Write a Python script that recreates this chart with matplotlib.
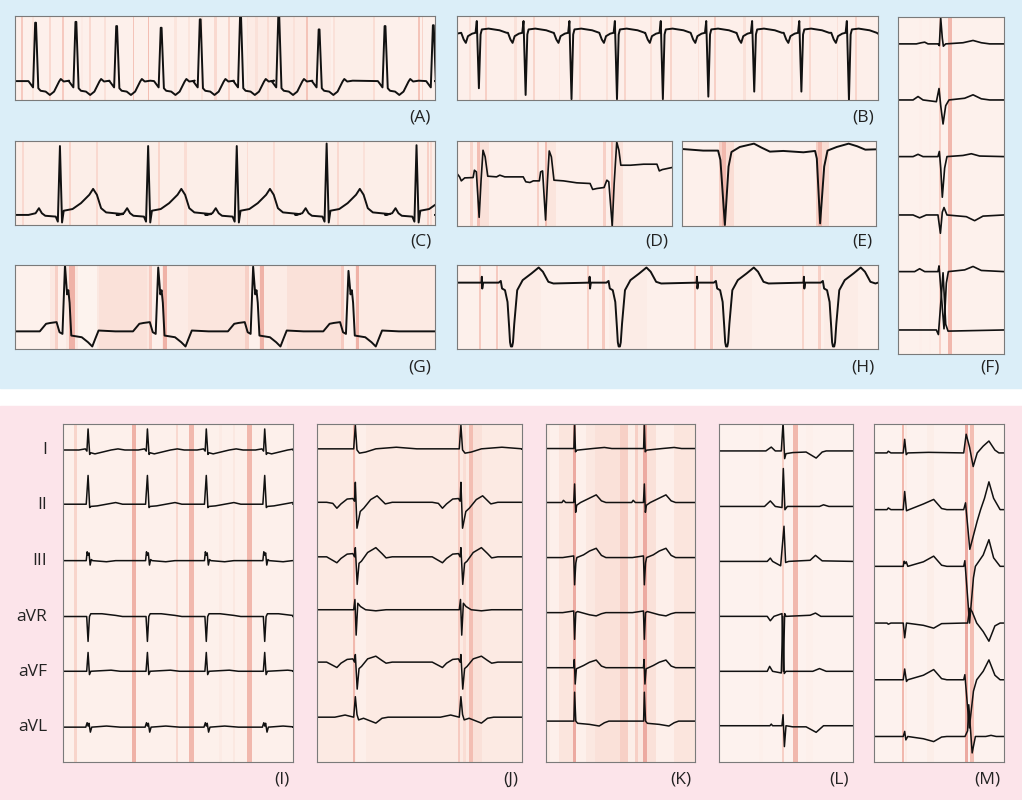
import numpy as np
import matplotlib.pyplot as plt
from matplotlib.colors import LinearSegmentedColormap
from matplotlib.patches import Rectangle

# ---------------- data (time = fraction of strip width) ----------------

# (A) beats, R heights, beat shape (offset, amplitude)
A_beats = [0.049, 0.145, 0.242, 0.348, 0.441, 0.537, 0.628, 0.724, 0.881, 0.996]
A_r = [0.92, 0.93, 0.88, 0.86, 0.96, 1.02, 1.02, 0.84, 0.88, 0.89]
A_shape = [(-0.017, 0.225), (-0.006, 0.15), (-0.001, None), (0.001, None), (0.0065, 0.14),
           (0.012, 0.11), (0.024, 0.10), (0.034, 0.06), (0.044, 0.10), (0.056, 0.22),
           (0.06, 0.25), (0.067, 0.22), (0.08, 0.23)]
A_base = 0.225
A_sal = [(0.016, 0.6), (0.044, 0.3), (0.083, 0.45), (0.115, 0.6), (0.159, 0.2), (0.179, 0.45),
         (0.214, 0.35), (0.282, 0.65), (0.317, 0.7), (0.381, 0.3), (0.413, 0.3), (0.444, 0.3),
         (0.476, 0.45), (0.508, 0.5), (0.552, 0.3), (0.574, 0.35), (0.6, 0.4), (0.663, 0.35),
         (0.694, 0.65), (0.758, 0.35), (0.853, 0.4), (0.96, 0.65), (0.968, 0.5)]
A_sal_wide = [(0.55, 0.75, 0.2), (0.76, 0.85, 0.15)]

# (B)
B_beats = [0.049, 0.160, 0.269, 0.377, 0.486, 0.594, 0.703, 0.815, 0.928]
B_s = [0.14, 0.06, 0.01, 0.01, 0.01, 0.04, 0.10, 0.10, 0.0]
B_shape = [(-0.039, 0.80), (-0.033, 0.72), (-0.028, 0.68), (-0.023, 0.76), (-0.013, 0.79),
           (-0.005, 0.80), (-0.002, 0.94), (0.003, None), (0.007, 0.78), (0.010, 0.84),
           (0.026, 0.85), (0.052, 0.83), (0.069, 0.80)]
B_base = 0.79
B_sal = [(0.03, 0.35), (0.069, 0.55), (0.139, 0.35), (0.182, 0.5), (0.243, 0.3), (0.291, 0.45),
         (0.356, 0.35), (0.399, 0.5), (0.46, 0.35), (0.507, 0.5), (0.572, 0.35), (0.611, 0.55),
         (0.681, 0.35), (0.724, 0.45), (0.794, 0.35), (0.837, 0.45), (0.902, 0.35), (0.945, 0.5)]

# (C)
C_beats = [0.107, 0.317, 0.528, 0.742, 0.956]
C_r = [0.94, 0.94, 0.94, 0.97, 0.95]
C_shape = [(-0.075, 0.12), (-0.058, 0.14), (-0.05, 0.20), (-0.043, 0.14), (-0.035, 0.11),
           (-0.01, 0.10), (-0.005, 0.04), (0.0, None), (0.005, 0.03), (0.009, 0.17),
           (0.03, 0.19), (0.05, 0.26), (0.07, 0.36), (0.079, 0.43), (0.088, 0.36),
           (0.098, 0.20), (0.11, 0.15), (0.15, 0.13)]
C_base = 0.12
C_sal = [(0.02, 0.45), (0.131, 0.5), (0.194, 0.45), (0.341, 0.5), (0.405, 0.4), (0.552, 0.4),
         (0.615, 0.4), (0.766, 0.45), (0.829, 0.35), (0.98, 0.55), (0.988, 0.4)]

# (D) irregular strip, full trace
D_t = [0.0, 0.012, 0.020, 0.036, 0.075, 0.081, 0.090, 0.103, 0.112, 0.121, 0.131, 0.143,
       0.184, 0.199, 0.222, 0.308, 0.320, 0.339, 0.355, 0.383, 0.389, 0.398, 0.412, 0.421,
       0.429, 0.439, 0.451, 0.495, 0.557, 0.619, 0.631, 0.650, 0.684, 0.697, 0.706, 0.722,
       0.731, 0.743, 0.753, 0.762, 0.806, 0.868, 0.930, 0.941, 0.955, 1.0]
D_v = [0.617, 0.578, 0.531, 0.566, 0.570, 0.656, 0.637, 0.102, 0.539, 0.891, 0.813, 0.586,
       0.578, 0.598, 0.578, 0.578, 0.520, 0.512, 0.531, 0.531, 0.637, 0.648, 0.070, 0.539,
       0.883, 0.813, 0.539, 0.531, 0.508, 0.500, 0.430, 0.441, 0.453, 0.539, 0.520, 0.0,
       0.500, 0.988, 0.891, 0.715, 0.715, 0.727, 0.727, 0.648, 0.664, 0.688]
D_sal = [(0.06, 0.072, 0.5), (0.095, 0.105, 0.7), (0.105, 0.15, 0.35), (0.37, 0.382, 0.55),
         (0.41, 0.42, 0.7), (0.42, 0.46, 0.3), (0.68, 0.693, 0.55), (0.715, 0.725, 0.75),
         (0.725, 0.77, 0.35)]

# (E)
E_t = [0.0, 0.109, 0.186, 0.198, 0.221, 0.240, 0.255, 0.298, 0.371, 0.410, 0.453, 0.522,
       0.626, 0.686, 0.695, 0.712, 0.733, 0.750, 0.798, 0.859, 0.903, 0.945, 1.0]
E_v = [0.906, 0.887, 0.887, 0.777, 0.012, 0.699, 0.871, 0.930, 0.969, 0.922, 0.875, 0.883,
       0.867, 0.883, 0.793, 0.031, 0.699, 0.887, 0.930, 0.969, 0.938, 0.898, 0.902]
E_sal = [(0.19, 0.205, 0.55), (0.205, 0.225, 0.75), (0.225, 0.27, 0.4), (0.27, 0.35, 0.15),
         (0.69, 0.70, 0.55), (0.70, 0.72, 0.75), (0.72, 0.76, 0.4)]

# (G)
G_beats = [0.119, 0.341, 0.567, 0.794]
G_r = [1.0, 0.97, 0.98, 0.93]
G_shape = [(-0.06, 0.21), (-0.045, 0.30), (-0.035, 0.31), (-0.02, 0.32), (-0.013, 0.20),
           (-0.006, 0.18), (0.0, None), (0.005, 0.65), (0.008, 0.70), (0.011, 0.55),
           (0.015, 0.16), (0.04, 0.14), (0.055, 0.08), (0.065, 0.03), (0.072, 0.12),
           (0.08, 0.22), (0.12, 0.21)]
G_base = 0.21
G_sal = [(0.0, 0.083, 0.08), (0.095, 0.103, 0.55), (0.103, 0.12, 0.1), (0.127, 0.143, 0.8),
         (0.15, 0.195, 0.05), (0.2, 0.313, 0.35), (0.317, 0.325, 0.6), (0.325, 0.35, 0.1),
         (0.353, 0.361, 0.8), (0.361, 0.41, 0.2), (0.41, 0.548, 0.3), (0.548, 0.556, 0.55),
         (0.556, 0.58, 0.1), (0.582, 0.592, 0.8), (0.592, 0.645, 0.2), (0.645, 0.775, 0.35),
         (0.775, 0.783, 0.6), (0.783, 0.808, 0.1), (0.81, 0.818, 0.8), (0.818, 1.0, 0.22)]

# (H)
H_beats = [0.059, 0.315, 0.570, 0.824]
H_shape = [(-0.001, 0.79), (0.0, 0.86), (0.001, 0.72), (0.003, 0.79), (0.04, 0.79),
           (0.045, 0.81), (0.048, 0.72), (0.055, 0.70), (0.061, 0.56), (0.065, 0.25),
           (0.067, 0.08), (0.069, 0.03), (0.072, 0.03), (0.074, 0.08), (0.077, 0.30),
           (0.084, 0.70), (0.097, 0.82), (0.118, 0.90), (0.135, 0.97), (0.145, 0.92),
           (0.158, 0.80), (0.17, 0.78)]
H_base = 0.79
H_sal = [(0.051, 0.057, 0.6), (0.091, 0.097, 0.6), (0.307, 0.313, 0.55), (0.344, 0.35, 0.6),
         (0.561, 0.567, 0.55), (0.6, 0.606, 0.6), (0.817, 0.823, 0.5), (0.856, 0.862, 0.55),
         (0.1, 0.2, 0.18), (0.36, 0.45, 0.18), (0.61, 0.7, 0.18), (0.87, 0.95, 0.18)]

# (F) six leads, one beat each
F_offsets = [5.42, 4.44, 3.45, 2.43, 1.44, 0.42]
F_leads = [
    [(0.0, 0.0), (0.173, 0.0), (0.22, 0.02), (0.252, 0.03), (0.283, 0.0), (0.377, 0.0),
     (0.39, -0.03), (0.403, 0.45), (0.418, 0.1), (0.428, -0.04), (0.45, 0.0), (0.613, 0.02),
     (0.708, 0.06), (0.786, 0.02), (0.865, 0.0), (1.0, 0.0)],
    [(0.0, 0.0), (0.142, 0.0), (0.189, 0.06), (0.236, 0.0), (0.362, -0.03), (0.387, 0.2),
     (0.403, -0.1), (0.425, -0.42), (0.45, -0.1), (0.481, 0.0), (0.629, 0.03), (0.708, 0.09),
     (0.786, 0.02), (0.865, 0.0), (1.0, 0.0)],
    [(0.0, 0.0), (0.142, 0.0), (0.189, 0.04), (0.236, 0.0), (0.377, 0.0), (0.39, 0.09),
     (0.403, -0.2), (0.418, -0.71), (0.44, -0.2), (0.462, 0.0), (0.613, 0.02), (0.692, 0.05),
     (0.77, 0.01), (1.0, 0.0)],
    [(0.0, 0.0), (0.142, 0.0), (0.204, -0.05), (0.267, 0.0), (0.377, 0.0), (0.40, -0.32),
     (0.418, 0.05), (0.434, 0.13), (0.462, 0.0), (0.645, -0.03), (0.723, -0.1),
     (0.802, -0.02), (1.0, 0.0)],
    [(0.0, 0.0), (0.157, 0.0), (0.204, 0.05), (0.252, 0.0), (0.377, 0.0), (0.387, 0.1),
     (0.434, -1.0), (0.456, -0.2), (0.475, 0.0), (0.629, 0.03), (0.708, 0.09), (0.786, 0.02),
     (1.0, 0.0)],
    [(0.0, 0.0), (0.362, 0.0), (0.381, -0.08), (0.425, 1.0), (0.45, 0.1), (0.472, -0.02),
     (1.0, 0.0)],
]
F_sal = [(0.2, 0.23, 0.12), (0.29, 0.31, 0.12), (0.385, 0.41, 0.55), (0.47, 0.505, 0.75)]

# 12-lead panels
lead_names = ['I', 'II', 'III', 'aVR', 'aVF', 'aVL']

I_beats = [0.109, 0.367, 0.623, 0.877]
I_offsets = [5.64, 4.66, 3.64, 2.63, 1.64, 0.63]
I_leads = [
    [(-0.04, 0.0), (-0.012, 0.02), (-0.005, -0.02), (0.0, 0.38), (0.007, -0.08), (0.012, -0.05),
     (0.03, -0.07), (0.06, -0.04), (0.1, 0.0), (0.13, 0.02), (0.16, 0.0)],
    [(-0.04, 0.0), (-0.008, 0.0), (0.0, 0.52), (0.007, -0.06), (0.012, -0.04), (0.04, -0.03),
     (0.08, 0.0), (0.12, 0.03), (0.15, 0.0)],
    [(-0.03, 0.0), (-0.008, 0.0), (-0.004, 0.16), (0.0, 0.1), (0.004, 0.14), (0.009, -0.08),
     (0.014, 0.02), (0.02, 0.0), (0.08, -0.02), (0.12, 0.0)],
    [(-0.03, 0.0), (-0.006, 0.0), (0.0, -0.45), (0.006, 0.0), (0.012, 0.05), (0.06, 0.05),
     (0.12, 0.02), (0.15, 0.0)],
    [(-0.03, 0.0), (-0.006, 0.0), (0.0, 0.34), (0.006, -0.06), (0.012, 0.0), (0.1, 0.02),
     (0.14, 0.0)],
    [(-0.03, 0.0), (-0.01, 0.0), (-0.004, 0.08), (0.0, 0.02), (0.004, 0.07), (0.01, -0.09),
     (0.016, 0.0), (0.08, 0.02), (0.14, 0.0)],
]
I_sal = [(0.05, 0.06, 0.5), (0.3, 0.318, 0.8), (0.49, 0.5, 0.45), (0.55, 0.57, 0.75),
         (0.68, 0.69, 0.2), (0.74, 0.75, 0.25), (0.8, 0.822, 0.75)]

J_beats = [0.187, 0.702]
J_offsets = [5.80, 4.81, 3.80, 2.82, 1.85, 0.83]
J_leads = [
    [(-0.1, 0.0), (-0.008, 0.0), (0.0, 0.44), (0.008, -0.02), (0.02, -0.08), (0.05, -0.06),
     (0.1, 0.0), (0.2, 0.03), (0.3, 0.0)],
    [(-0.14, 0.0), (-0.11, -0.02), (-0.09, -0.11), (-0.07, -0.03), (-0.04, 0.06), (-0.012, 0.07),
     (-0.004, 0.02), (0.0, 0.37), (0.008, -0.48), (0.024, -0.17), (0.041, -0.11), (0.075, 0.05),
     (0.106, 0.12), (0.13, 0.03), (0.146, -0.03), (0.18, 0.0)],
    [(-0.14, 0.0), (-0.09, -0.11), (-0.07, -0.03), (-0.04, 0.05), (-0.012, 0.06), (-0.004, 0.0),
     (0.0, 0.17), (0.009, -0.51), (0.018, -0.12), (0.03, -0.08), (0.06, 0.08), (0.1, 0.17),
     (0.13, 0.06), (0.15, -0.02), (0.18, 0.0)],
    [(-0.1, 0.0), (-0.008, 0.0), (-0.002, 0.19), (0.004, -0.47), (0.012, 0.12), (0.025, 0.06),
     (0.05, 0.0), (0.1, -0.02), (0.15, 0.0)],
    [(-0.14, 0.0), (-0.09, -0.1), (-0.07, -0.02), (-0.04, 0.05), (-0.012, 0.06), (-0.004, 0.0),
     (0.0, 0.14), (0.009, -0.5), (0.018, -0.12), (0.03, -0.08), (0.06, 0.06), (0.1, 0.11),
     (0.13, 0.03), (0.15, -0.02), (0.18, 0.0)],
    [(-0.1, 0.0), (-0.05, 0.04), (-0.008, 0.0), (0.0, 0.38), (0.008, 0.05), (0.016, -0.05),
     (0.04, -0.02), (0.08, -0.08), (0.1, -0.11), (0.13, -0.02), (0.16, 0.0)],
]
J_sal = [(0.172, 0.182, 0.75), (0.19, 0.24, 0.12), (0.686, 0.696, 0.6), (0.71, 0.725, 0.4),
         (0.74, 0.755, 0.7), (0.755, 0.8, 0.35)]

K_beats = [0.192, 0.66]
K_offsets = [5.75, 4.76, 3.75, 2.74, 1.73, 0.75]
K_leads = [
    [(-0.06, 0.0), (-0.005, 0.0), (0.0, 0.45), (0.006, -0.06), (0.015, -0.03), (0.05, -0.02),
     (0.12, 0.0), (0.2, 0.02), (0.25, 0.0)],
    [(-0.12, 0.0), (-0.085, 0.0), (-0.075, 0.04), (-0.06, 0.0), (-0.006, 0.0), (0.0, 0.34),
     (0.007, -0.18), (0.014, -0.05), (0.04, 0.0), (0.1, 0.08), (0.145, 0.14), (0.18, 0.03),
     (0.21, 0.0)],
    [(-0.08, 0.0), (-0.006, 0.03), (0.0, -0.5), (0.008, -0.1), (0.015, 0.0), (0.06, 0.05),
     (0.1, 0.12), (0.145, 0.17), (0.18, 0.04), (0.21, 0.0)],
    [(-0.08, 0.0), (-0.006, 0.03), (0.0, -0.49), (0.008, 0.0), (0.02, 0.02), (0.1, -0.04),
     (0.145, -0.06), (0.18, -0.02), (0.21, 0.0)],
    [(-0.08, 0.0), (-0.006, 0.0), (-0.002, 0.15), (0.004, -0.3), (0.012, -0.02), (0.06, 0.04),
     (0.1, 0.1), (0.145, 0.14), (0.18, 0.03), (0.21, 0.0)],
    [(-0.08, 0.0), (-0.005, 0.0), (0.0, 0.53), (0.008, 0.0), (0.02, -0.04), (0.1, -0.06),
     (0.165, -0.09), (0.2, -0.03), (0.23, 0.0)],
]
K_base_sal = 0.25
K_sal = [(0.0, 0.03, 0.2), (0.03, 0.09, 0.1), (0.09, 0.18, 0.3), (0.18, 0.2, 0.85),
         (0.2, 0.27, 0.1), (0.27, 0.33, 0.25), (0.33, 0.5, 0.35), (0.5, 0.55, 0.55),
         (0.55, 0.6, 0.15), (0.6, 0.62, 0.55), (0.65, 0.675, 0.85), (0.675, 0.74, 0.35),
         (0.74, 0.86, 0.12), (0.86, 1.0, 0.3)]

L_offsets = [5.66, 4.65, 3.65, 2.65, 1.65, 0.66]
L_leads = [
    [(0.0, 0.0), (0.35, 0.0), (0.39, 0.07), (0.42, 0.0), (0.465, 0.0), (0.478, 0.52),
     (0.49, -0.14), (0.5, -0.05), (0.55, -0.03), (0.65, -0.02), (0.725, -0.13), (0.77, -0.02),
     (0.8, 0.0), (1.0, 0.0)],
    [(0.0, 0.0), (0.34, 0.0), (0.383, 0.1), (0.42, 0.0), (0.47, -0.02), (0.48, 0.69),
     (0.492, -0.06), (0.51, 0.0), (0.75, 0.0), (0.78, 0.03), (0.82, 0.0), (1.0, 0.0)],
    [(0.0, 0.0), (0.36, 0.0), (0.383, 0.06), (0.4, 0.0), (0.46, -0.08), (0.485, 0.64),
     (0.497, -0.02), (0.52, 0.0), (0.68, 0.02), (0.72, 0.11), (0.77, 0.01), (1.0, 0.0)],
    [(0.0, 0.0), (0.36, 0.0), (0.383, -0.08), (0.41, 0.0), (0.47, 0.05), (0.48, -1.0),
     (0.49, 0.05), (0.5, 0.0), (0.68, 0.02), (0.72, 0.06), (0.76, 0.0), (1.0, 0.0)],
    [(0.0, 0.0), (0.36, 0.0), (0.378, 0.09), (0.4, 0.0), (0.465, -0.03), (0.476, 1.0),
     (0.487, -0.04), (0.5, 0.0), (0.7, 0.0), (0.75, 0.05), (0.8, 0.0), (1.0, 0.0)],
    [(0.0, 0.0), (0.38, 0.0), (0.39, 0.03), (0.4, 0.0), (0.47, 0.0), (0.478, 0.2),
     (0.488, -0.38), (0.5, 0.0), (0.55, -0.02), (0.65, -0.02), (0.725, -0.12), (0.78, 0.0),
     (1.0, 0.0)],
]
L_sal = [(0.3, 0.33, 0.1), (0.468, 0.485, 0.55), (0.555, 0.59, 0.75), (0.65, 0.7, 0.1)]

M_offsets = [5.45, 4.45, 3.45, 2.45, 1.45, 0.45]
M_leads = [
    [(0.0, 0.0), (0.1, 0.0), (0.11, 0.03), (0.13, 0.0), (0.225, 0.0), (0.236, 0.24),
     (0.248, -0.03), (0.26, 0.0), (0.42, 0.01), (0.69, 0.0), (0.709, 0.33), (0.735, 0.1),
     (0.763, -0.24), (0.794, 0.0), (0.84, 0.12), (0.884, 0.21), (0.93, 0.05), (0.961, 0.0),
     (1.0, 0.0)],
    [(0.0, 0.0), (0.1, 0.0), (0.11, 0.03), (0.13, 0.0), (0.225, 0.0), (0.236, 0.32),
     (0.25, -0.02), (0.27, 0.0), (0.38, 0.1), (0.459, 0.18), (0.52, 0.02), (0.56, 0.0),
     (0.69, 0.0), (0.704, 0.12), (0.737, -0.7), (0.794, -0.2), (0.82, 0.0), (0.85, 0.2),
     (0.884, 0.49), (0.92, 0.2), (0.97, 0.0), (1.0, 0.0)],
    [(0.0, 0.0), (0.225, 0.0), (0.232, 0.09), (0.24, 0.05), (0.248, 0.08), (0.26, 0.0),
     (0.38, 0.08), (0.459, 0.18), (0.52, 0.02), (0.56, 0.0), (0.69, 0.0), (0.699, 0.1),
     (0.735, -1.0), (0.765, -0.2), (0.78, 0.0), (0.84, 0.2), (0.884, 0.47), (0.92, 0.15),
     (0.97, 0.0), (1.0, 0.0)],
    [(0.0, 0.0), (0.1, 0.0), (0.11, -0.02), (0.13, 0.0), (0.225, 0.0), (0.236, -0.26),
     (0.25, 0.0), (0.38, -0.04), (0.459, -0.09), (0.52, -0.01), (0.69, 0.0), (0.72, 0.0),
     (0.737, 0.26), (0.755, 0.2), (0.79, 0.0), (0.84, -0.15), (0.884, -0.32), (0.93, -0.05),
     (0.97, 0.0), (1.0, 0.0)],
    [(0.0, 0.0), (0.225, 0.0), (0.236, 0.19), (0.25, -0.03), (0.26, 0.0), (0.38, 0.08),
     (0.459, 0.18), (0.52, 0.02), (0.56, 0.0), (0.69, 0.0), (0.699, 0.09), (0.733, -0.85),
     (0.765, -0.2), (0.79, 0.0), (0.84, 0.15), (0.884, 0.35), (0.93, 0.08), (0.97, 0.0),
     (1.0, 0.0)],
    [(0.0, 0.0), (0.225, 0.0), (0.236, 0.09), (0.245, -0.06), (0.26, 0.0), (0.38, -0.04),
     (0.459, -0.09), (0.52, -0.01), (0.56, 0.0), (0.7, 0.0), (0.72, 0.1), (0.729, 0.56),
     (0.755, -0.29), (0.78, 0.0), (0.86, 0.0), (0.9, 0.02), (0.94, 0.0), (1.0, 0.0)],
]
M_sal = [(0.215, 0.23, 0.75), (0.24, 0.255, 0.2), (0.41, 0.46, 0.15), (0.7, 0.72, 0.85),
         (0.735, 0.77, 0.7)]

# ---------------- drawing ----------------
W, H = 1022, 800
plt.rcParams['font.family'] = ['Open Sans', 'DejaVu Sans']
fig = plt.figure(figsize=(W / 100, H / 100), dpi=100)

sal_cmap = LinearSegmentedColormap.from_list(
    'sal', ['#fef6f2', '#fce9e2', '#f9d6cc', '#f2b9ae', '#e5968f'])

# panel backgrounds
fig.add_artist(Rectangle((0, 1 - 388 / H), 1, 388 / H, transform=fig.transFigure,
                         color='#dbeef8', zorder=0))
fig.add_artist(Rectangle((0, 0), 1, 394 / H, transform=fig.transFigure,
                         color='#fce4ea', zorder=0))


def make_ax(x0, y0, x1, y1, ytop=1.0):
    ax = fig.add_axes([x0 / W, 1 - y1 / H, (x1 - x0) / W, (y1 - y0) / H])
    ax.set_xlim(0, 1)
    ax.set_ylim(0, ytop)
    ax.set_xticks([])
    ax.set_yticks([])
    for s in ax.spines.values():
        s.set_color('#7a7a7a')
        s.set_linewidth(0.8)
    return ax


def saliency(ax, regions, base=0.1, ytop=1.0):
    xs = (np.arange(800) + 0.5) / 800
    arr = np.full(800, base)
    for s, e, lv in regions:
        arr[(xs >= s) & (xs < e)] = lv
    ax.imshow(arr[None, :], aspect='auto', extent=[0, 1, 0, ytop], cmap=sal_cmap,
              vmin=0, vmax=1, interpolation='nearest', zorder=0)


def lines_to_regions(lines, w=0.0045):
    return [(c - w / 2, c + w / 2, lv) for c, lv in lines]


def beat_trace(beats, shape, base=0.0, fill=None):
    xs, ys = [0.0], [base]
    for i, b in enumerate(beats):
        for t, v in shape:
            xs.append(b + t)
            ys.append(fill[i] if v is None else v)
    xs.append(1.0)
    ys.append(base)
    return np.array(xs), np.array(ys)


def label(x1, y1, txt, dy=18):
    fig.text((x1 - 4) / W, 1 - (y1 + dy) / H, txt, ha='right', va='center',
             fontsize=12.5, color='#222222')


def draw_leads(ax, leads, offsets, beats, lw=1.1):
    for shape, off in zip(leads, offsets):
        x, y = beat_trace(beats, shape)
        ax.plot(x, y + off, color='#111111', lw=lw, solid_joinstyle='round')


TLW = 1.4

# (A)
ax = make_ax(15, 16, 435, 100)
saliency(ax, A_sal_wide + lines_to_regions(A_sal), base=0.1)
x, y = beat_trace(A_beats, A_shape, A_base, A_r)
ax.plot(x, y, color='#111111', lw=TLW)
label(435, 100, '(A)')

# (B)
ax = make_ax(457, 16, 878, 100)
saliency(ax, lines_to_regions(B_sal), base=0.12)
x, y = beat_trace(B_beats, B_shape, B_base, B_s)
ax.plot(x, y, color='#111111', lw=TLW)
label(878, 100, '(B)')

# (C)
ax = make_ax(15, 141, 435, 225)
saliency(ax, lines_to_regions(C_sal), base=0.15)
x, y = beat_trace(C_beats, C_shape, C_base, C_r)
ax.plot(x, y, color='#111111', lw=TLW)
label(435, 225, '(C)', dy=17)

# (D)
ax = make_ax(457, 141, 672, 226)
saliency(ax, D_sal, base=0.12)
ax.plot(D_t, D_v, color='#111111', lw=1.2)
label(672, 226, '(D)', dy=16)

# (E)
ax = make_ax(682, 141, 876, 226)
saliency(ax, E_sal, base=0.1)
ax.plot(E_t, E_v, color='#111111', lw=TLW)
label(876, 226, '(E)', dy=16)

# (G)
ax = make_ax(15, 265, 435, 349)
saliency(ax, G_sal, base=0.25)
x, y = beat_trace(G_beats, G_shape, G_base, G_r)
ax.plot(x, y, color='#111111', lw=TLW)
label(435, 349, '(G)', dy=18)

# (H)
ax = make_ax(457, 265, 878, 349)
saliency(ax, H_sal, base=0.1)
x, y = beat_trace(H_beats, H_shape, H_base)
ax.plot(x, y, color='#111111', lw=TLW)
label(878, 349, '(H)', dy=18)

# (F)
ax = make_ax(898, 17, 1004, 354, ytop=5.89)
saliency(ax, F_sal, base=0.08, ytop=5.89)
draw_leads(ax, F_leads, F_offsets, [0.0], lw=1.2)
label(1004, 354, '(F)', dy=13)

# (I)
ax = make_ax(63, 424, 293, 762, ytop=6.11)
saliency(ax, I_sal, base=0.1, ytop=6.11)
draw_leads(ax, I_leads, I_offsets, I_beats)
label(293, 762, '(I)', dy=18)
for name, y_px in zip(lead_names, [450, 505, 561, 617, 672, 727]):
    fig.text(47 / W, 1 - y_px / H, name, ha='right', va='center', fontsize=12.5,
             color='#222222')

# (J)
ax = make_ax(317, 424, 522, 762, ytop=6.26)
saliency(ax, J_sal, base=0.22, ytop=6.26)
draw_leads(ax, J_leads, J_offsets, J_beats)
label(522, 762, '(J)', dy=18)

# (K)
ax = make_ax(546, 424, 695, 762, ytop=6.2)
saliency(ax, K_sal, base=K_base_sal, ytop=6.2)
draw_leads(ax, K_leads, K_offsets, K_beats)
label(695, 762, '(K)', dy=18)

# (L)
ax = make_ax(719, 424, 853, 762, ytop=6.15)
saliency(ax, L_sal, base=0.06, ytop=6.15)
draw_leads(ax, L_leads, L_offsets, [0.0])
label(853, 762, '(L)', dy=18)

# (M)
ax = make_ax(874, 424, 1004, 762, ytop=5.96)
saliency(ax, M_sal, base=0.06, ytop=5.96)
draw_leads(ax, M_leads, M_offsets, [0.0])
label(1004, 762, '(M)', dy=18)

fig.savefig('out.png', dpi=100)
